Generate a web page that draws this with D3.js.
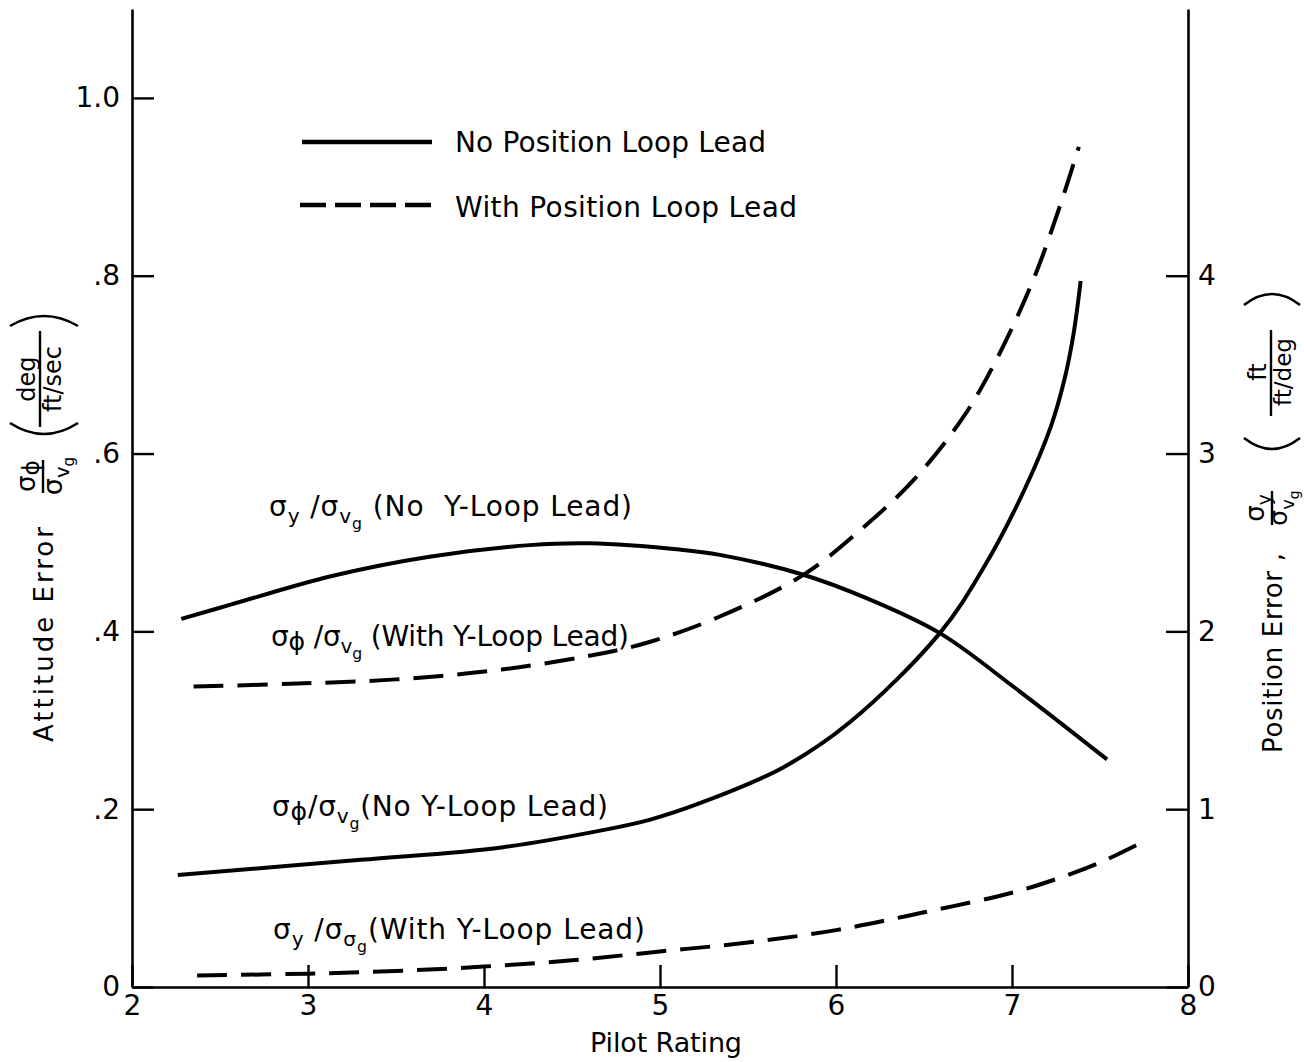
<!DOCTYPE html>
<html>
<head>
<meta charset="utf-8">
<script src="https://cdn.jsdelivr.net/npm/d3@7"></script>
<style>
  body { margin: 0; background: #fff; }
  svg text { font-family: "DejaVu Sans", sans-serif; fill: #000; white-space: pre; }
</style>
</head>
<body>
<svg id="chart" width="1304" height="1062"></svg>
<script>
// ---- axis ticks ----
const ratingTicks = [2, 3, 4, 5, 6, 7, 8];
const attitudeTicks = [0, 0.2, 0.4, 0.6, 0.8, 1.0];
const attitudeTickLabels = ["0", ".2", ".4", ".6", ".8", "1.0"];
const positionTicks = [0, 1, 2, 3, 4];
const positionTickLabels = ["0", "1", "2", "3", "4"];

// ---- σy/σvg, no Y-loop lead (position error, ft/(ft/deg)) ----
const posNoLeadRating = [2.28, 2.56, 3.13, 3.69, 4.26, 4.60, 5.11, 5.34, 5.81, 6.19, 6.59, 7.02, 7.54];
const posNoLeadError  = [2.07, 2.15, 2.31, 2.42, 2.485, 2.495, 2.46, 2.43, 2.32, 2.18, 1.99, 1.68, 1.28];

// ---- σϕ/σvg, with Y-loop lead (attitude error, deg/(ft/sec)) ----
const attLeadRating = [2.35, 2.90, 3.50, 4.10, 4.69, 4.94, 5.32, 5.81, 6.15, 6.44, 6.72, 6.91, 7.12, 7.27, 7.38];
const attLeadError  = [0.338, 0.341, 0.346, 0.357, 0.376, 0.388, 0.415, 0.463, 0.516, 0.570, 0.640, 0.705, 0.795, 0.877, 0.945];

// ---- σϕ/σvg, no Y-loop lead (attitude error) ----
const attNoLeadRating = [2.26, 3.30, 4.10, 4.69, 4.94, 5.23, 5.70, 6.08, 6.59, 6.84, 7.07, 7.22, 7.30, 7.35, 7.39];
const attNoLeadError  = [0.126, 0.143, 0.157, 0.177, 0.188, 0.207, 0.247, 0.298, 0.398, 0.472, 0.559, 0.630, 0.685, 0.735, 0.794];

// ---- σy/σσg, with Y-loop lead (position error) ----
const posLeadRating = [2.37, 3.0, 3.5, 4.0, 4.5, 5.0, 5.5, 6.0, 6.5, 7.0, 7.26, 7.5, 7.74];
const posLeadError  = [0.065, 0.075, 0.09, 0.115, 0.15, 0.20, 0.25, 0.32, 0.42, 0.53, 0.61, 0.70, 0.815];

const FONT = '"DejaVu Sans", sans-serif';
const svg = d3.select("#chart");

const x = d3.scaleLinear().domain([2, 8]).range([132, 1188]);
const yAtt = d3.scaleLinear().domain([0, 1.1]).range([987, 9]);
const yPos = d3.scaleLinear().domain([0, 5.5]).range([987, 9]);

function styleAxis(g) {
  g.attr("font-family", FONT).attr("font-size", 28);
  g.select(".domain").attr("stroke-width", 2.6);
  g.selectAll(".tick line").attr("stroke-width", 2.4);
}

// left (attitude) axis
svg.append("g")
  .attr("transform", `translate(${x(2)},0)`)
  .call(d3.axisLeft(yAtt).tickValues(attitudeTicks)
    .tickFormat((d, i) => attitudeTickLabels[i])
    .tickSize(-22).tickSizeOuter(0).tickPadding(12))
  .call(styleAxis);

// right (position) axis
svg.append("g")
  .attr("transform", `translate(${x(8)},0)`)
  .call(d3.axisRight(yPos).tickValues(positionTicks)
    .tickFormat((d, i) => positionTickLabels[i])
    .tickSize(-22).tickSizeOuter(0).tickPadding(10))
  .call(styleAxis);

// bottom (pilot rating) axis
svg.append("g")
  .attr("transform", `translate(0,${yAtt(0)})`)
  .call(d3.axisBottom(x).tickValues(ratingTicks).tickFormat(d3.format("d"))
    .tickSize(-22).tickSizeOuter(0).tickPadding(8))
  .call(styleAxis);

// ---- curves ----
function drawCurve(xs, ys, yScale, dashed) {
  const pts = xs.map((v, i) => [v, ys[i]]);
  svg.append("path")
    .datum(pts)
    .attr("fill", "none")
    .attr("stroke", "#000")
    .attr("stroke-width", 4)
    .attr("stroke-dasharray", dashed ? "30,14" : null)
    .attr("d", d3.line().x(d => x(d[0])).y(d => yScale(d[1])).curve(d3.curveCatmullRom.alpha(0.5)));
}
drawCurve(posNoLeadRating, posNoLeadError, yPos, false);
drawCurve(attLeadRating, attLeadError, yAtt, true);
drawCurve(attNoLeadRating, attNoLeadError, yAtt, false);
drawCurve(posLeadRating, posLeadError, yPos, true);

// ---- text with sub/sub-subscripts: parts = [[string, level], ...] ----
// level 0 normal, 1 subscript, 2 sub-subscript, 3 slightly lowered full-size (ϕ)
const subShift = [0, 0.26, 0.46, 0.14];
const subScale = [1, 0.72, 0.56, 0.9];
function richText(parent, parts, px, py, size, opts = {}) {
  const t = parent.append("text")
    .attr("x", px).attr("y", py)
    .attr("font-size", size)
    .attr("text-anchor", opts.anchor || "start");
  if (opts.rotate) t.attr("transform", `rotate(-90 ${px} ${py})`);
  if (opts.length) t.attr("textLength", opts.length).attr("lengthAdjust", "spacing");
  let prev = 0;
  parts.forEach(([s, lv]) => {
    t.append("tspan")
      .attr("font-size", size * subScale[lv])
      .attr("dy", (subShift[lv] - subShift[prev]) * size)
      .text(s);
    prev = lv;
  });
  return t;
}

// curve labels
richText(svg, [["σ",0],["y",1],[" /σ",0],["v",1],["g",2],[" (No  Y-Loop Lead)",0]], 269, 516, 28, {length: 363});
richText(svg, [["σ",0],["ϕ",3],[" /σ",0],["v",1],["g",2],[" (With Y-Loop Lead)",0]], 271, 646, 28, {length: 358});
richText(svg, [["σ",0],["ϕ",3],["/σ",0],["v",1],["g",2],["(No Y-Loop Lead)",0]], 272, 816, 28, {length: 336});
richText(svg, [["σ",0],["y",1],[" /σ",0],["σ",1],["g",2],["(With Y-Loop Lead)",0]], 273, 939, 28, {length: 372});

// ---- legend ----
const legend = svg.append("g");
legend.append("line").attr("x1", 302).attr("x2", 432).attr("y1", 142).attr("y2", 142)
  .attr("stroke", "#000").attr("stroke-width", 4.5);
legend.append("line").attr("x1", 300).attr("x2", 432).attr("y1", 205).attr("y2", 205)
  .attr("stroke", "#000").attr("stroke-width", 4.5).attr("stroke-dasharray", "26,9");
legend.append("text").attr("x", 455).attr("y", 152).attr("font-size", 28)
  .attr("textLength", 311).attr("lengthAdjust", "spacing").text("No Position Loop Lead");
legend.append("text").attr("x", 455).attr("y", 217).attr("font-size", 28)
  .attr("textLength", 342).attr("lengthAdjust", "spacing").text("With Position Loop Lead");

// ---- x-axis title ----
svg.append("text").attr("x", 666).attr("y", 1052).attr("font-size", 27)
  .attr("text-anchor", "middle").attr("textLength", 152).attr("lengthAdjust", "spacing")
  .text("Pilot Rating");

// ---- helpers for the rotated axis titles ----
function bar(x0, y0, y1, w) {
  svg.append("line").attr("x1", x0).attr("x2", x0).attr("y1", y0).attr("y2", y1)
    .attr("stroke", "#000").attr("stroke-width", w || 2.4);
}
function paren(x0, x1, yEnd, yMid) {
  const c = 2 * yMid - yEnd;
  svg.append("path")
    .attr("d", `M${x0},${yEnd} Q${(x0 + x1) / 2},${c} ${x1},${yEnd}`)
    .attr("fill", "none").attr("stroke", "#000").attr("stroke-width", 2.6);
}

// left title: Attitude Error σϕ/σvg (deg / ft/sec)
richText(svg, [["Attitude Error",0]], 53, 742, 26, {rotate: true, length: 215});
richText(svg, [["σ",0],["ϕ",3]], 35, 476, 26, {rotate: true, anchor: "middle"});
bar(43, 460, 493);
richText(svg, [["σ",0],["v",1],["g",2]], 62, 476, 27, {rotate: true, anchor: "middle"});
richText(svg, [["deg",0]], 35, 379, 24, {rotate: true, anchor: "middle"});
bar(40, 331, 427);
richText(svg, [["ft/sec",0]], 61, 379, 24, {rotate: true, anchor: "middle"});
paren(10, 78, 326, 316);
paren(10, 78, 423, 434);

// right title: Position Error , σy/σvg (ft / ft/deg)
richText(svg, [["Position Error ,",0]], 1282, 753, 26, {rotate: true, length: 200});
richText(svg, [["σ",0],["y",1]], 1264, 508, 26, {rotate: true, anchor: "middle"});
bar(1272, 491, 525);
richText(svg, [["σ",0],["v",1],["g",2]], 1287, 508, 25, {rotate: true, anchor: "middle"});
richText(svg, [["ft",0]], 1266, 372, 24, {rotate: true, anchor: "middle"});
bar(1271, 330, 416);
richText(svg, [["ft/deg",0]], 1291, 372, 23, {rotate: true, anchor: "middle"});
paren(1244, 1300, 305, 294);
paren(1244, 1300, 438, 449);
</script>
</body>
</html>
